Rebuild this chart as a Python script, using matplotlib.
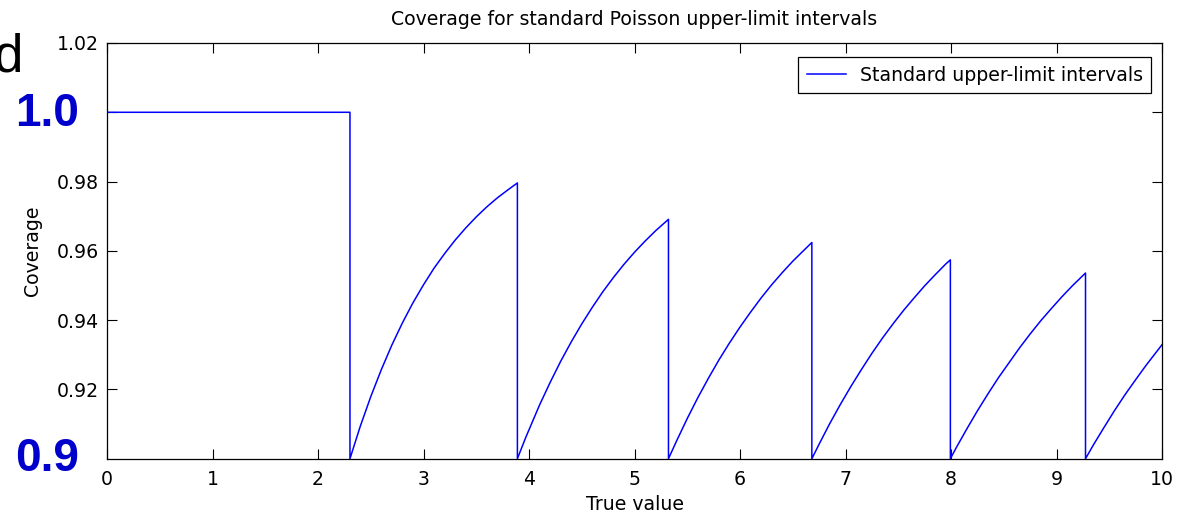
import matplotlib
matplotlib.use("Agg")
import matplotlib.pyplot as plt

# ---- data ----
flat_x = [0.0, 2.303]
flat_y = [1.0, 1.0]
arc1_x = [2.303, 2.4, 2.5, 2.6, 2.7, 2.8, 2.9, 3.0, 3.1, 3.2, 3.3, 3.4, 3.5, 3.6, 3.7, 3.8, 3.89]
arc1_y = [0.9000, 0.9093, 0.9179, 0.9257, 0.9328, 0.9392, 0.9450, 0.9502, 0.9550, 0.9592,
          0.9631, 0.9666, 0.9698, 0.9727, 0.9753, 0.9776, 0.9796]
arc2_x = [3.89, 3.97, 4.1, 4.2, 4.3, 4.4, 4.5, 4.6, 4.7, 4.8, 4.9, 5.0, 5.1, 5.2, 5.322]
arc2_y = [0.9000, 0.9062, 0.9155, 0.9220, 0.9281, 0.9337, 0.9389, 0.9437, 0.9482, 0.9523,
          0.9561, 0.9596, 0.9628, 0.9658, 0.9691]
arc3_x = [5.322, 5.4, 5.5, 5.6, 5.7, 5.8, 5.9, 6.0, 6.1, 6.2, 6.3, 6.4, 6.5, 6.6, 6.681]
arc3_y = [0.9000, 0.9052, 0.9116, 0.9176, 0.9232, 0.9285, 0.9334, 0.9380, 0.9423, 0.9464,
          0.9502, 0.9537, 0.9570, 0.9600, 0.9624]
arc4_x = [6.681, 6.75, 6.85, 6.95, 7.05, 7.15, 7.25, 7.35, 7.45, 7.55, 7.65, 7.75, 7.85, 7.95, 7.994]
arc4_y = [0.9000, 0.9042, 0.9101, 0.9156, 0.9208, 0.9257, 0.9304, 0.9348, 0.9389, 0.9428,
          0.9464, 0.9499, 0.9531, 0.9562, 0.9574]
arc5_x = [7.994, 8.05, 8.15, 8.25, 8.35, 8.45, 8.55, 8.65, 8.75, 8.85, 8.95, 9.05, 9.15, 9.275]
arc5_y = [0.9000, 0.9032, 0.9086, 0.9138, 0.9187, 0.9234, 0.9277, 0.9320, 0.9360, 0.9398,
          0.9433, 0.9467, 0.9499, 0.9536]
arc6_x = [9.275, 9.35, 9.45, 9.55, 9.65, 9.75, 9.85, 10.0]
arc6_y = [0.9000, 0.9040, 0.9090, 0.9139, 0.9185, 0.9228, 0.9270, 0.9329]

x_ticks = [0, 1, 2, 3, 4, 5, 6, 7, 8, 9, 10]
y_ticks = [0.92, 0.94, 0.96, 0.98, 1.00, 1.02]
y_ticklabels = ["0.92", "0.94", "0.96", "0.98", "", "1.02"]

title = "Coverage for standard Poisson upper-limit intervals"
xlabel = "True value"
ylabel = "Coverage"
legend_label = "Standard upper-limit intervals"

xs = flat_x + arc1_x + arc2_x + arc3_x + arc4_x + arc5_x + arc6_x
ys = flat_y + arc1_y + arc2_y + arc3_y + arc4_y + arc5_y + arc6_y

W, H = 1185, 517
fig = plt.figure(figsize=(W / 100, H / 100), dpi=100)
fig.patch.set_facecolor("white")

ax_l, ax_r, ax_t, ax_b = 107, 1162, 43, 458.7
ax = fig.add_axes([ax_l / W, 1 - ax_b / H, (ax_r - ax_l) / W, (ax_b - ax_t) / H])

fs = 13.6
ax.plot(xs, ys, color="#0000FF", lw=1.1, label=legend_label)
ax.set_xlim(0, 10)
ax.set_ylim(0.9, 1.02)
ax.set_xticks(x_ticks)
ax.set_xticklabels([str(t) for t in x_ticks])
ax.set_yticks(y_ticks)
ax.set_yticklabels(y_ticklabels)
ax.tick_params(direction="in", length=7, width=0.8, top=True, right=True,
               labelsize=fs, colors="black")
ax.tick_params(axis="x", pad=8)
ax.tick_params(axis="y", pad=6)
for s in ax.spines.values():
    s.set_linewidth(0.9)
    s.set_color("black")

ax.set_title(title, fontsize=fs, pad=13)
ax.set_xlabel(xlabel, fontsize=fs)
ax.set_ylabel(ylabel, fontsize=fs)
ax.xaxis.set_label_coords(0.5, (ax_b - 495) / (ax_b - ax_t))
ax.yaxis.set_label_coords((42 - ax_l) / (ax_r - ax_l), 0.5)
ax.xaxis.label.set_va("top")

leg = ax.legend(loc="upper right",
                bbox_to_anchor=((1151 - ax_l) / (ax_r - ax_l), (ax_b - 57) / (ax_b - ax_t)),
                borderaxespad=0, fancybox=False, framealpha=1, edgecolor="black",
                fontsize=fs, handlelength=2.1, handletextpad=0.7, borderpad=0.45)
leg.get_frame().set_linewidth(0.9)

# slide annotations around the chart
fig.text(23 / W, 1 - 72 / H, "d", fontsize=38, family="Liberation Sans",
         ha="right", va="baseline", color="black")
fig.text(47 / W, 1 - 114 / H, "1.0", fontsize=33, family="Liberation Sans",
         weight="bold", ha="center", va="center", color="#0000CC")
fig.text(47 / W, 1 - 459 / H, "0.9", fontsize=33, family="Liberation Sans",
         weight="bold", ha="center", va="center", color="#0000CC")

fig.savefig("out.png", dpi=100)
